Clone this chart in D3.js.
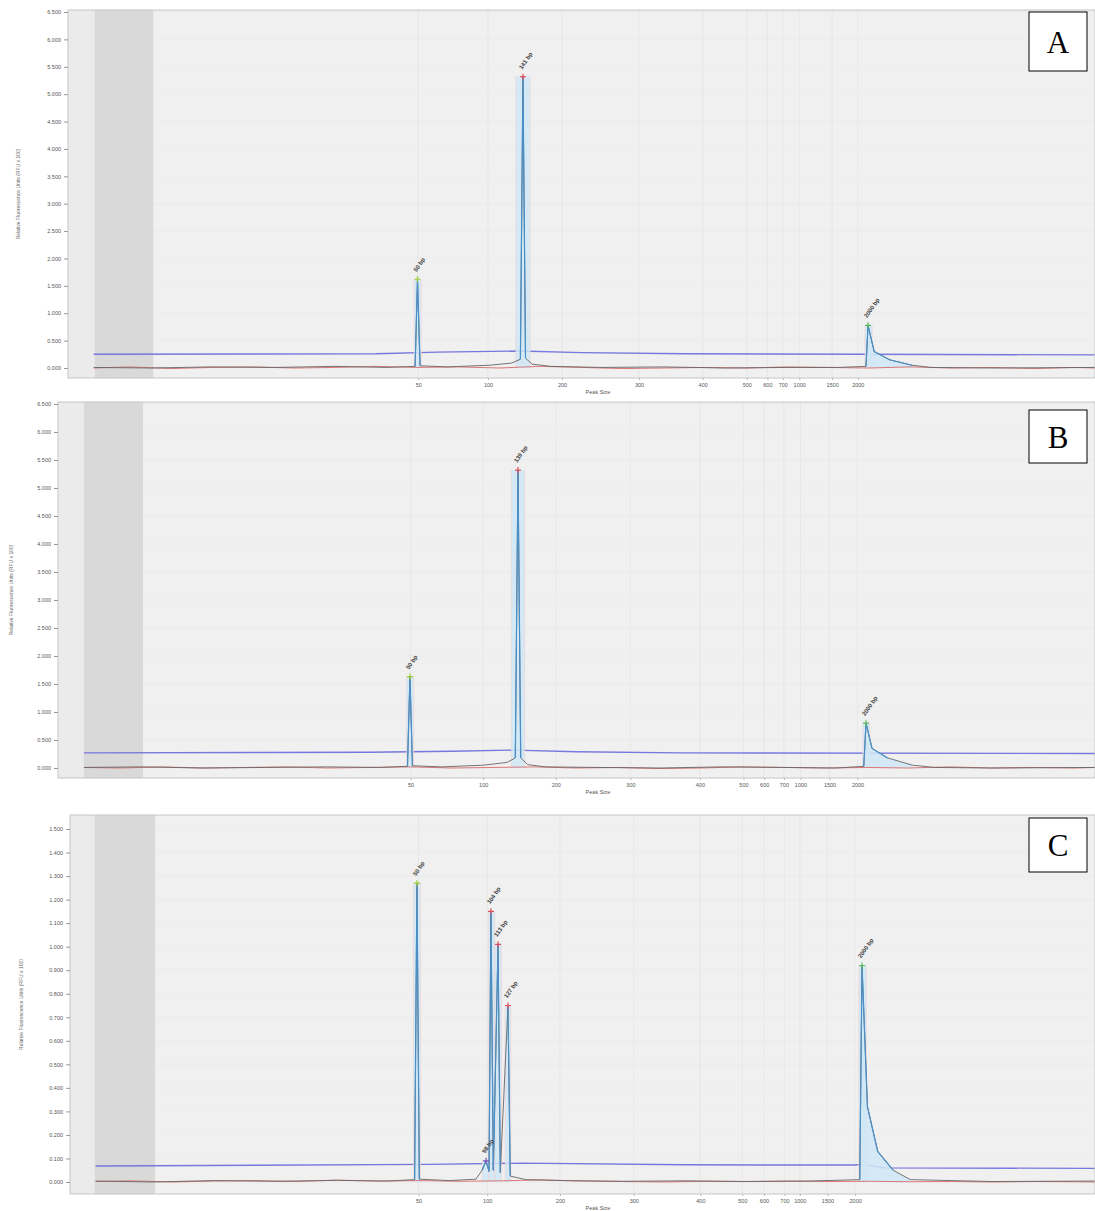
<!DOCTYPE html>
<html>
<head>
<meta charset="utf-8">
<script src="https://cdn.jsdelivr.net/npm/d3@7"></script>
<style>
  body { margin: 0; background: #fff; }
  svg { display: block; }
  text { font-family: "Liberation Sans", Arial, sans-serif; }
</style>
</head>
<body>
<script>
// ladder sizes printed under every x axis
const sizeLabels = ["50", "100", "200", "300", "400", "500", "600", "700", "1000", "1500", "2000"];
// migration time of each ladder size (0-100 across the run)
const ladderTimeA = [34.1, 40.9, 48.1, 55.6, 61.8, 66.1, 68.1, 69.6, 71.2, 74.4, 76.9];
const ladderTimeB = [34.0, 41.0, 48.0, 55.2, 61.9, 66.1, 68.1, 70.0, 71.6, 74.4, 77.1];
const ladderTimeC = [34.0, 40.7, 47.8, 55.0, 61.5, 65.6, 67.7, 69.7, 71.2, 73.9, 76.6];

const rfuTicksAB = [0, 0.5, 1, 1.5, 2, 2.5, 3, 3.5, 4, 4.5, 5, 5.5, 6, 6.5];
const rfuTicksC = [0, 0.1, 0.2, 0.3, 0.4, 0.5, 0.6, 0.7, 0.8, 0.9, 1.0, 1.1, 1.2, 1.3, 1.4, 1.5];

// excluded start of the run (darker band)
const exclusionA = [2.6, 8.3];
const exclusionB = [2.5, 8.2];
const exclusionC = [2.4, 8.3];

// called peaks
const peakLabelA = ["50 bp", "141 bp", "2000 bp"];
const peakTimeA = [34.03, 44.3, 77.9];
const peakRfuA = [1.62, 5.32, 0.78];
const peakStartA = [33.7, 43.6, 77.6];
const peakEndA = [34.4, 45.0, 78.3];
const peakKindA = ["lower", "sample", "upper"];

const peakLabelB = ["50 bp", "139 bp", "2000 bp"];
const peakTimeB = [33.94, 44.36, 77.92];
const peakRfuB = [1.63, 5.32, 0.8];
const peakStartB = [33.6, 43.7, 77.6];
const peakEndB = [34.3, 45.0, 78.3];
const peakKindB = ["lower", "sample", "upper"];

const peakLabelC = ["50 bp", "98 bp", "104 bp", "113 bp", "127 bp", "2000 bp"];
const peakTimeC = [33.85, 40.59, 41.07, 41.76, 42.73, 77.27];
const peakRfuC = [1.27, 0.09, 1.15, 1.01, 0.75, 0.92];
const peakStartC = [33.5, 40.2, 40.85, 41.45, 42.45, 76.95];
const peakEndC = [34.2, 40.85, 41.45, 42.1, 43.0, 77.7];
const peakKindC = ["lower", "small", "sample", "sample", "sample", "upper"];

// sample trace [time, RFU]
const traceA = [[2.5, 0.01], [8, 0.0], [14, 0.02], [20, 0.01], [26, 0.03], [31, 0.01], [33.8, 0.03], [34.03, 1.62],
  [34.28, 0.04], [37, 0.02], [41, 0.05], [43.2, 0.09], [44.05, 0.16], [44.3, 5.32], [44.55, 0.18], [45.2, 0.07],
  [47, 0.03], [52, 0.01], [58, 0.02], [64, 0.0], [70, 0.01], [75, 0.01], [77.7, 0.03], [77.9, 0.78],
  [78.5, 0.3], [80.0, 0.15], [82.2, 0.05], [84, 0.01], [90, 0.0], [100, 0.01]];
const traceB = [[2.5, 0.01], [8, 0.02], [14, 0.0], [20, 0.01], [26, 0.02], [31, 0.01], [33.7, 0.03], [33.94, 1.63],
  [34.18, 0.04], [37, 0.02], [41, 0.05], [43.3, 0.1], [44.1, 0.18], [44.36, 5.32], [44.62, 0.18], [45.3, 0.06],
  [47, 0.02], [52, 0.01], [58, 0.0], [64, 0.02], [70, 0.01], [75, 0.0], [77.7, 0.03], [77.92, 0.8],
  [78.5, 0.35], [80.0, 0.18], [82.4, 0.05], [84.5, 0.01], [90, 0.0], [100, 0.01]];
const traceC = [[2.5, 0.004], [8, 0.0], [14, 0.006], [20, 0.003], [26, 0.007], [31, 0.004], [33.62, 0.01], [33.85, 1.27],
  [34.08, 0.012], [37, 0.006], [39.6, 0.012], [40.2, 0.05], [40.59, 0.09], [40.88, 0.045], [41.07, 1.15],
  [41.3, 0.05], [41.76, 1.01], [41.98, 0.04], [42.73, 0.75], [42.95, 0.025], [44.5, 0.01], [48, 0.006],
  [54, 0.003], [60, 0.005], [66, 0.002], [72, 0.004], [77.05, 0.01], [77.27, 0.92], [77.8, 0.32], [78.8, 0.13],
  [80.3, 0.05], [82, 0.01], [90, 0.002], [100, 0.004]];

// second (red) channel, near zero
const baseTimes = [2.5, 6, 10, 14, 18, 22, 26, 30, 34, 38, 42, 46, 50, 54, 58, 62, 66, 70, 74, 78, 82, 86, 90, 94, 98, 100];
const redA = [0.0, 0.02, -0.01, 0.01, 0.02, 0.0, 0.01, 0.03, 0.01, 0.02, 0.0, 0.03, 0.01, -0.01, 0.0, 0.01, 0.0, 0.02, 0.01, 0.0, 0.02, 0.0, 0.01, -0.01, 0.01, 0.0];
const redB = [0.01, 0.0, 0.02, 0.0, 0.01, 0.02, 0.0, 0.01, 0.02, 0.0, 0.01, 0.02, 0.0, 0.01, -0.01, 0.0, 0.02, 0.01, 0.0, 0.01, 0.0, 0.02, 0.0, 0.01, 0.0, 0.01];
const redC = [0.002, 0.005, 0.0, 0.004, 0.006, 0.002, 0.008, 0.004, 0.006, 0.003, 0.005, 0.009, 0.004, 0.002, 0.0, 0.003, 0.002, 0.004, 0.002, 0.003, 0.001, 0.002, 0.0, 0.002, 0.001, 0.0];

// blue threshold line
const threshA = [[2.5, 0.25], [30, 0.26], [36, 0.29], [44, 0.31], [50, 0.28], [60, 0.26], [77, 0.25], [100, 0.24]];
const threshB = [[2.5, 0.27], [30, 0.28], [38, 0.3], [44, 0.32], [50, 0.29], [60, 0.27], [100, 0.26]];
const threshC = [[2.5, 0.068], [35, 0.075], [44, 0.08], [60, 0.073], [76.5, 0.072], [77.3, 0.075], [79.5, 0.06], [100, 0.058]];

const panels = [
  { id: "A", left: 68, top: 10, bottom: 378, y0: 368, y1: 12, ticks: rfuTicksAB, ladder: ladderTimeA, excl: exclusionA,
    label: peakLabelA, time: peakTimeA, rfu: peakRfuA, start: peakStartA, end: peakEndA, kind: peakKindA,
    trace: traceA, red: redA, thresh: threshA, yTitleX: 20, box: [1029, 12, 58, 59] },
  { id: "B", left: 58, top: 402, bottom: 778, y0: 768, y1: 404, ticks: rfuTicksAB, ladder: ladderTimeB, excl: exclusionB,
    label: peakLabelB, time: peakTimeB, rfu: peakRfuB, start: peakStartB, end: peakEndB, kind: peakKindB,
    trace: traceB, red: redB, thresh: threshB, yTitleX: 13, box: [1029, 410, 58, 53] },
  { id: "C", left: 70, top: 815, bottom: 1194, y0: 1182, y1: 829, ticks: rfuTicksC, ladder: ladderTimeC, excl: exclusionC,
    label: peakLabelC, time: peakTimeC, rfu: peakRfuC, start: peakStartC, end: peakEndC, kind: peakKindC,
    trace: traceC, red: redC, thresh: threshC, yTitleX: 23, box: [1029, 818, 58, 54] }
];

const markerColor = { lower: "#9acd32", upper: "#5cb85c", sample: "#e0505a", small: "#7a4fc0" };

const svg = d3.select("body").append("svg").attr("width", 1095).attr("height", 1211);

panels.forEach(p => {
  const g = svg.append("g");
  const x = d3.scaleLinear().domain([0, 100]).range([p.left, 1095]);
  const y = d3.scaleLinear().domain([0, d3.max(p.ticks)]).range([p.y0, p.y1]);
  const line = d3.line().x(d => x(d[0])).y(d => y(d[1]));
  const area = d3.area().x(d => x(d[0])).y0(y(0)).y1(d => y(d[1]));

  /* plot background */
  g.append("rect").attr("x", p.left).attr("y", p.top).attr("width", 1095 - p.left).attr("height", p.bottom - p.top)
    .attr("fill", "#f0f0f0");
  g.append("rect").attr("x", p.left).attr("y", p.top).attr("width", x(p.excl[0]) - p.left).attr("height", p.bottom - p.top)
    .attr("fill", "#ebebeb");
  g.append("rect").attr("x", x(p.excl[0])).attr("y", p.top).attr("width", x(p.excl[1]) - x(p.excl[0]))
    .attr("height", p.bottom - p.top).attr("fill", "#d9d9d9");

  // faint grid
  g.selectAll(".hg").data(p.ticks).enter().append("line")
    .attr("x1", x(p.excl[1])).attr("x2", 1095).attr("y1", d => y(d)).attr("y2", d => y(d))
    .attr("stroke", "#e9e9e9").attr("stroke-width", 0.6);
  g.selectAll(".vg").data(p.ladder).enter().append("line")
    .attr("x1", d => x(d)).attr("x2", d => x(d)).attr("y1", p.top).attr("y2", p.bottom)
    .attr("stroke", "#e4e4e4").attr("stroke-width", 0.8);

  // threshold line
  g.append("path").datum(p.thresh).attr("d", line).attr("fill", "none")
    .attr("stroke", "#7777dd").attr("stroke-width", 1.4);

  // peak windows
  p.time.forEach((t, i) => {
    g.append("rect").attr("x", x(p.start[i])).attr("y", y(p.rfu[i]))
      .attr("width", x(p.end[i]) - x(p.start[i])).attr("height", y(0) - y(p.rfu[i]))
      .attr("fill", "#cfe8f6").attr("opacity", 0.85);
    [p.start[i], p.end[i]].forEach(b => {
      g.append("line").attr("x1", x(b)).attr("x2", x(b)).attr("y1", y(p.rfu[i])).attr("y2", y(0))
        .attr("stroke", "#f2cccc").attr("stroke-width", 0.5);
    });
    if (p.kind[i] === "upper") {
      g.append("path").datum(p.trace.filter(d => d[0] >= t && d[0] <= t + 5)).attr("d", area)
        .attr("fill", "#cfe8f6").attr("opacity", 0.85);
    }
  });

  // red channel
  g.append("path").datum(baseTimes.map((t, i) => [t, p.red[i]])).attr("d", line)
    .attr("fill", "none").attr("stroke", "#d96b6b").attr("stroke-width", 0.9);

  // sample trace
  g.append("path").datum(p.trace).attr("d", line).attr("fill", "none")
    .attr("stroke", "#666").attr("stroke-width", 0.9);
  p.time.forEach((t, i) => {
    const seg = p.trace.filter(d => d[0] >= p.start[i] - 0.3 && d[0] <= p.end[i] + 4 * (p.kind[i] === "upper"));
    g.append("path").datum(seg).attr("d", line).attr("fill", "none")
      .attr("stroke", "#4b8fc6").attr("stroke-width", 1.2);
  });

  // apex markers and labels
  p.time.forEach((t, i) => {
    const cx = x(t), cy = y(p.rfu[i]);
    g.append("path").attr("d", `M${cx - 3},${cy}H${cx + 3}M${cx},${cy - 3}V${cy + 3}`)
      .attr("stroke", markerColor[p.kind[i]]).attr("stroke-width", 1.2);
    g.append("text").attr("transform", `translate(${cx - 1},${cy - 7}) rotate(-55)`)
      .attr("font-size", 6).attr("font-weight", "bold").attr("fill", "#444").text(p.label[i]);
  });

  // frame
  g.append("rect").attr("x", p.left).attr("y", p.top).attr("width", 1095 - p.left).attr("height", p.bottom - p.top)
    .attr("fill", "none").attr("stroke", "#c6c6c6");

  // y axis
  const ya = g.append("g").attr("transform", `translate(${p.left},0)`)
    .call(d3.axisLeft(y).tickValues(p.ticks).tickFormat(d3.format(".3f")).tickSize(4));
  ya.select(".domain").remove();
  ya.selectAll("line").attr("stroke", "#999");
  ya.selectAll("text").attr("font-size", 5.5).attr("fill", "#555");

  // x axis
  const xa = g.append("g").attr("transform", `translate(0,${p.bottom})`)
    .call(d3.axisBottom(x).tickValues(p.ladder).tickFormat((d, i) => sizeLabels[i]).tickSize(2));
  xa.select(".domain").remove();
  xa.selectAll("line").attr("stroke", "#bbb");
  xa.selectAll("text").attr("font-size", 5.5).attr("fill", "#555");

  g.append("text").attr("x", 598).attr("y", p.bottom + 16).attr("text-anchor", "middle")
    .attr("font-size", 5.5).attr("fill", "#555").text("Peak Size");
  g.append("text").attr("transform", `translate(${p.yTitleX},${(p.top + p.bottom) / 2}) rotate(-90)`)
    .attr("text-anchor", "middle").attr("font-size", 5).attr("fill", "#666")
    .text("Relative Fluorescence Units (RFU x 100)");

  // panel letter
  g.append("rect").attr("x", p.box[0]).attr("y", p.box[1]).attr("width", p.box[2]).attr("height", p.box[3])
    .attr("fill", "#fff").attr("stroke", "#000").attr("stroke-width", 1);
  g.append("text").attr("x", p.box[0] + p.box[2] / 2).attr("y", p.box[1] + p.box[3] / 2 + 11)
    .attr("text-anchor", "middle").attr("font-size", 31).attr("fill", "#000")
    .style("font-family", "'Liberation Serif', 'DejaVu Serif', serif").text(p.id);
});
</script>
</body>
</html>
